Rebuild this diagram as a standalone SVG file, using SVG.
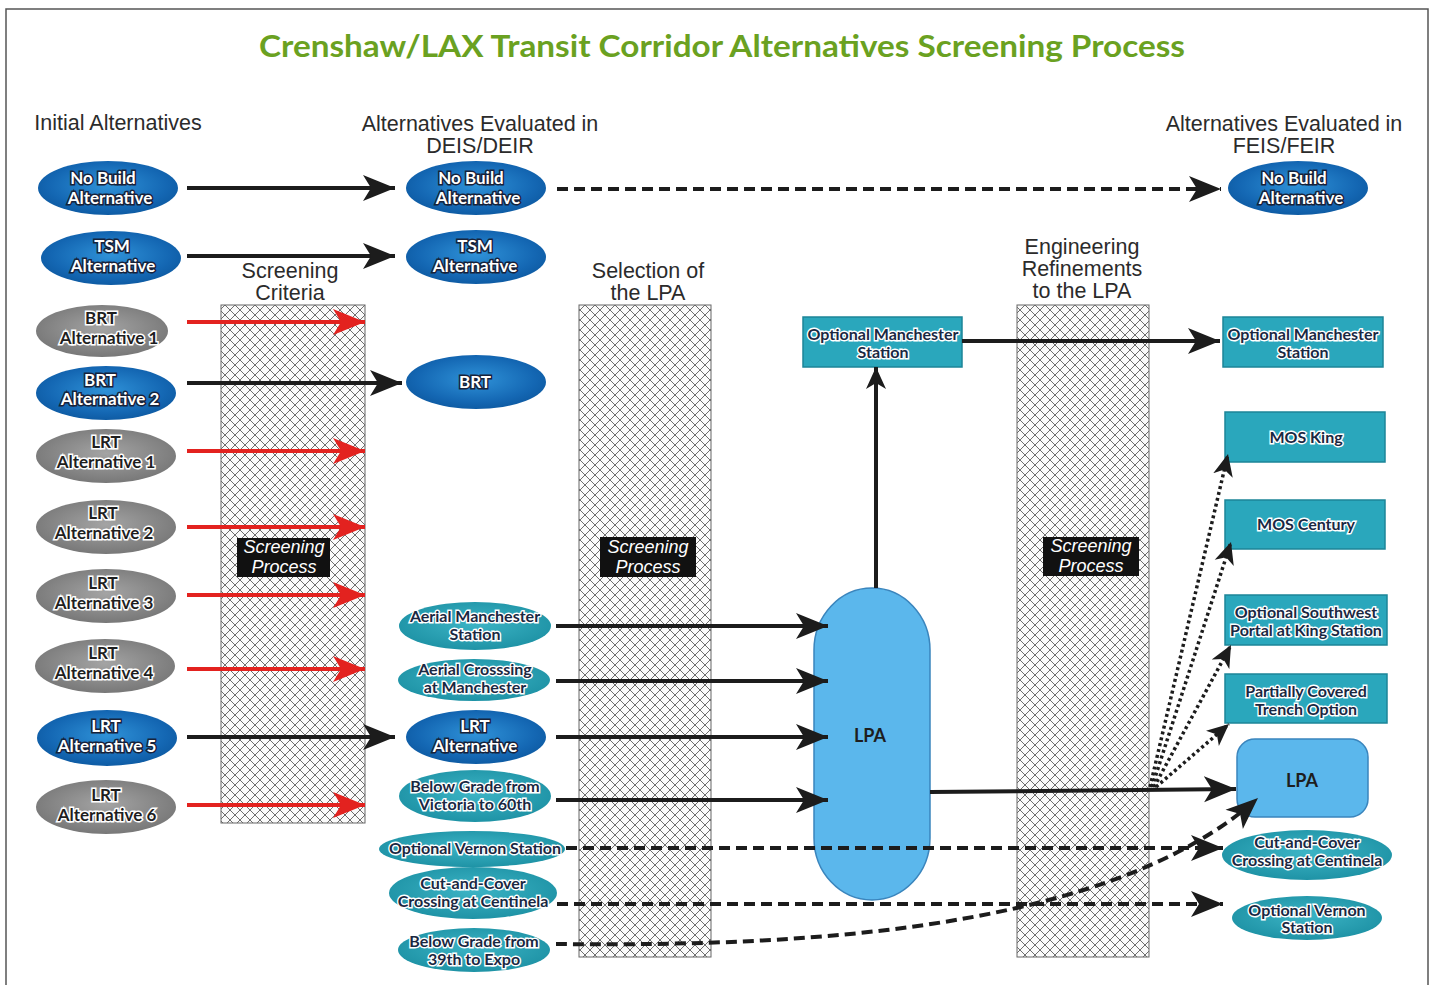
<svg xmlns="http://www.w3.org/2000/svg" width="1433" height="985" viewBox="0 0 1433 985">
<style>
.hdr{font-family:"Liberation Sans",Arial,sans-serif;font-size:21.5px;fill:#2b2b2b;text-anchor:middle}
.lw{font-family:Lato,"Open Sans",sans-serif;font-weight:700;font-size:17px;fill:#ffffff;stroke:#17223a;stroke-width:3px;paint-order:stroke;text-anchor:middle}
.ld{font-family:Lato,"Open Sans",sans-serif;font-weight:700;font-size:17px;fill:#1e1e1e;stroke:#ffffff;stroke-width:3px;paint-order:stroke;text-anchor:middle}
.lt{font-family:Lato,"Open Sans",sans-serif;font-weight:700;font-size:16px;fill:#1a2842;stroke:#ffffff;stroke-width:2.8px;paint-order:stroke;text-anchor:middle}
.lp{font-family:Lato,"Open Sans",sans-serif;font-weight:700;font-size:18px;fill:#1e1e1e;text-anchor:middle}
.sp{font-family:"Liberation Sans",Arial,sans-serif;font-style:italic;font-size:18px;fill:#ffffff;text-anchor:middle}
.blue{fill:url(#gBlue)}
.gray{fill:url(#gGray)}
.teal{fill:url(#gTeal)}
.box{fill:#2aa7bc;stroke:#1d8598;stroke-width:1.5}
.col{fill:url(#hatch);stroke:#666;stroke-width:1}
.spbox{fill:#111}
.solid{fill:none;stroke:#1c1c1c;stroke-width:4}
.red{fill:none;stroke:#e3221f;stroke-width:4}
.dash{fill:none;stroke:#1c1c1c;stroke-width:4;stroke-dasharray:11 6}
.dot{fill:none;stroke:#1c1c1c;stroke-width:3.5;stroke-dasharray:3 3}
</style>
<defs>
<radialGradient id="gBlue" cx="50%" cy="45%" r="60%"><stop offset="0" stop-color="#2f92d8"/><stop offset="0.7" stop-color="#1467b3"/><stop offset="1" stop-color="#0c579e"/></radialGradient>
<radialGradient id="gGray" cx="50%" cy="45%" r="60%"><stop offset="0" stop-color="#a4a4a4"/><stop offset="1" stop-color="#747474"/></radialGradient>
<radialGradient id="gTeal" cx="50%" cy="45%" r="60%"><stop offset="0" stop-color="#3cb4c5"/><stop offset="1" stop-color="#1c90a3"/></radialGradient>
<pattern id="hatch" patternUnits="userSpaceOnUse" width="10" height="10"><rect width="10" height="10" fill="#fafafa"/><path d="M0,0 L10,10 M10,0 L0,10" stroke="#4a4a4a" stroke-width="0.8"/></pattern>
<marker id="ah" markerUnits="userSpaceOnUse" markerWidth="34" markerHeight="28" refX="32" refY="14" orient="auto"><path d="M0,1 L32,14 L0,27 L8,14 z" fill="#1c1c1c"/></marker>
<marker id="ahr" markerUnits="userSpaceOnUse" markerWidth="34" markerHeight="28" refX="32" refY="14" orient="auto"><path d="M0,1 L32,14 L0,27 L8,14 z" fill="#e3221f"/></marker>
<marker id="ahs" markerUnits="userSpaceOnUse" markerWidth="24" markerHeight="22" refX="22" refY="11" orient="auto"><path d="M0,1 L22,11 L0,21 L6,11 z" fill="#1c1c1c"/></marker>
</defs>
<rect width="1433" height="985" fill="#ffffff"/>
<path d="M6,990 L6,9 L1428,9 L1428,990" fill="none" stroke="#555" stroke-width="1.5"/>
<text x="722" y="57" font-family="Lato,'Open Sans',sans-serif" font-weight="700" font-size="30" fill="#6aa121" text-anchor="middle" textLength="926" lengthAdjust="spacingAndGlyphs">Crenshaw/LAX Transit Corridor Alternatives Screening Process</text>

<g id="headers">
<text class="hdr" x="118" y="130">Initial Alternatives</text>
<text class="hdr" x="480" y="131">Alternatives Evaluated in<tspan x="480" dy="22">DEIS/DEIR</tspan></text>
<text class="hdr" x="1284" y="131">Alternatives Evaluated in<tspan x="1284" dy="22">FEIS/FEIR</tspan></text>
<text class="hdr" x="290" y="278">Screening<tspan x="290" dy="22">Criteria</tspan></text>
<text class="hdr" x="648" y="278">Selection of<tspan x="648" dy="22">the LPA</tspan></text>
<text class="hdr" x="1082" y="254">Engineering<tspan x="1082" dy="22">Refinements</tspan><tspan x="1082" dy="22">to the LPA</tspan></text>
</g>

<g id="screening-criteria"><rect class="col" x="221" y="305" width="144" height="518"/><rect class="spbox" x="237" y="538" width="93" height="39"/><text class="sp" x="284" y="553">Screening<tspan x="284" dy="20">Process</tspan></text></g>
<g id="selection-lpa"><rect class="col" x="579" y="305" width="132" height="652"/><rect class="spbox" x="600" y="537" width="96" height="40"/><text class="sp" x="648" y="553">Screening<tspan x="648" dy="20">Process</tspan></text></g>
<g id="engineering-refinements"><rect class="col" x="1017" y="305" width="132" height="652"/><rect class="spbox" x="1043" y="537" width="96" height="39"/><text class="sp" x="1091" y="552">Screening<tspan x="1091" dy="20">Process</tspan></text></g>

<g id="init-nobuild"><ellipse class="blue" cx="108" cy="188" rx="70" ry="27"/><text class="lw" x="103" y="184">No Build</text><text class="lw" x="110" y="204">Alternative</text></g>
<g id="init-tsm"><ellipse class="blue" cx="111" cy="258" rx="70" ry="27"/><text class="lw" x="112" y="252">TSM</text><text class="lw" x="113" y="272">Alternative</text></g>
<g id="init-brt1"><ellipse class="gray" cx="102" cy="331" rx="66" ry="26"/><text class="ld" x="101" y="324">BRT</text><text class="ld" x="109" y="344">Alternative 1</text></g>
<g id="init-brt2"><ellipse class="blue" cx="106" cy="393" rx="70" ry="27"/><text class="lw" x="100" y="386">BRT</text><text class="lw" x="110" y="405">Alternative 2</text></g>
<g id="init-lrt1"><ellipse class="gray" cx="106" cy="456" rx="70" ry="27"/><text class="ld" x="106" y="448">LRT</text><text class="ld" x="106" y="468">Alternative 1</text></g>
<g id="init-lrt2"><ellipse class="gray" cx="106" cy="527" rx="70" ry="27"/><text class="ld" x="103" y="519">LRT</text><text class="ld" x="104" y="539">Alternative 2</text></g>
<g id="init-lrt3"><ellipse class="gray" cx="106" cy="596" rx="70" ry="27"/><text class="ld" x="103" y="589">LRT</text><text class="ld" x="104" y="609">Alternative 3</text></g>
<g id="init-lrt4"><ellipse class="gray" cx="105" cy="666" rx="70" ry="27"/><text class="ld" x="103" y="659">LRT</text><text class="ld" x="104" y="679">Alternative 4</text></g>
<g id="init-lrt5"><ellipse class="blue" cx="107" cy="738" rx="70" ry="28"/><text class="lw" x="106" y="732">LRT</text><text class="lw" x="107" y="752">Alternative 5</text></g>
<g id="init-lrt6"><ellipse class="gray" cx="106" cy="807" rx="70" ry="27"/><text class="ld" x="106" y="801">LRT</text><text class="ld" x="107" y="821">Alternative 6</text></g>

<g id="deis-nobuild"><ellipse class="blue" cx="476" cy="188" rx="70" ry="27"/><text class="lw" x="471" y="184">No Build</text><text class="lw" x="478" y="204">Alternative</text></g>
<g id="deis-tsm"><ellipse class="blue" cx="476" cy="257" rx="70" ry="27"/><text class="lw" x="475" y="252">TSM</text><text class="lw" x="475" y="272">Alternative</text></g>
<g id="deis-brt"><ellipse class="blue" cx="476" cy="382" rx="70" ry="27"/><text class="lw" x="475" y="388">BRT</text></g>
<g id="deis-aerial-manchester"><ellipse class="teal" cx="475" cy="626" rx="76" ry="24"/><text class="lt" x="475" y="622">Aerial Manchester</text><text class="lt" x="475" y="640">Station</text></g>
<g id="deis-aerial-crossing"><ellipse class="teal" cx="474" cy="680" rx="76" ry="21"/><text class="lt" x="475" y="675">Aerial Crosssing</text><text class="lt" x="475" y="693">at Manchester</text></g>
<g id="deis-lrt"><ellipse class="blue" cx="476" cy="737" rx="70" ry="27"/><text class="lw" x="475" y="732">LRT</text><text class="lw" x="475" y="752">Alternative</text></g>
<g id="deis-below-victoria"><ellipse class="teal" cx="475" cy="796" rx="76" ry="26"/><text class="lt" x="475" y="792">Below Grade from</text><text class="lt" x="475" y="810">Victoria to 60th</text></g>
<g id="deis-vernon"><ellipse class="teal" cx="472" cy="849" rx="93" ry="18"/><text class="lt" x="475" y="854">Optional Vernon Station</text></g>
<g id="deis-cutcover"><ellipse class="teal" cx="473" cy="893" rx="84" ry="26"/><text class="lt" x="473" y="889">Cut-and-Cover</text><text class="lt" x="473" y="907">Crossing at Centinela</text></g>
<g id="deis-below-39th"><ellipse class="teal" cx="474" cy="950" rx="76" ry="22"/><text class="lt" x="474" y="947">Below Grade from</text><text class="lt" x="474" y="965">39th to Expo</text></g>

<g id="lpa-main"><rect x="814" y="588" width="116" height="312" rx="58" ry="62" fill="#5bb7ec" stroke="#3a85bd" stroke-width="1.5"/><text class="lp" x="870" y="742">LPA</text></g>
<g id="mid-opt-manchester"><rect class="box" x="803" y="317" width="159" height="50"/><text class="lt" x="883" y="340">Optional Manchester</text><text class="lt" x="883" y="358">Station</text></g>

<g id="feis-nobuild"><ellipse class="blue" cx="1298" cy="188" rx="70" ry="27"/><text class="lw" x="1294" y="184">No Build</text><text class="lw" x="1301" y="204">Alternative</text></g>
<g id="feis-opt-manchester"><rect class="box" x="1223" y="317" width="160" height="50"/><text class="lt" x="1303" y="340">Optional Manchester</text><text class="lt" x="1303" y="358">Station</text></g>
<g id="feis-mos-king"><rect class="box" x="1225" y="412" width="160" height="50"/><text class="lt" x="1306" y="443">MOS King</text></g>
<g id="feis-mos-century"><rect class="box" x="1225" y="500" width="160" height="49"/><text class="lt" x="1306" y="530">MOS Century</text></g>
<g id="feis-sw-portal"><rect class="box" x="1225" y="595" width="162" height="50"/><text class="lt" x="1306" y="618">Optional Southwest</text><text class="lt" x="1306" y="636">Portal at King Station</text></g>
<g id="feis-trench"><rect class="box" x="1225" y="674" width="162" height="49"/><text class="lt" x="1306" y="697">Partially Covered</text><text class="lt" x="1306" y="715">Trench Option</text></g>
<g id="feis-lpa"><rect x="1237" y="739" width="131" height="78" rx="18" fill="#5bb7ec" stroke="#3a85bd" stroke-width="1.5"/><text class="lp" x="1302" y="787">LPA</text></g>
<g id="feis-cutcover"><ellipse class="teal" cx="1307" cy="855" rx="85" ry="25"/><text class="lt" x="1307" y="848">Cut-and-Cover</text><text class="lt" x="1307" y="866">Crossing at Centinela</text></g>
<g id="feis-vernon"><ellipse class="teal" cx="1307" cy="918" rx="75" ry="22"/><text class="lt" x="1307" y="916">Optional Vernon</text><text class="lt" x="1307" y="933">Station</text></g>

<g id="connectors">
<path class="solid" d="M187,188 H395" marker-end="url(#ah)"/>
<path class="solid" d="M187,256 H395" marker-end="url(#ah)"/>
<path class="red" d="M187,322 H365" marker-end="url(#ahr)"/>
<path class="solid" d="M187,383 H402" marker-end="url(#ah)"/>
<path class="red" d="M187,451 H365" marker-end="url(#ahr)"/>
<path class="red" d="M187,527 H365" marker-end="url(#ahr)"/>
<path class="red" d="M187,595 H365" marker-end="url(#ahr)"/>
<path class="red" d="M187,669 H365" marker-end="url(#ahr)"/>
<path class="solid" d="M187,737 H395" marker-end="url(#ah)"/>
<path class="red" d="M187,805 H365" marker-end="url(#ahr)"/>
<path class="dash" d="M557,189 H1221" marker-end="url(#ah)"/>
<path class="solid" d="M556,626 H828" marker-end="url(#ah)"/>
<path class="solid" d="M556,681 H828" marker-end="url(#ah)"/>
<path class="solid" d="M556,737 H828" marker-end="url(#ah)"/>
<path class="solid" d="M556,800 H828" marker-end="url(#ah)"/>
<path class="dash" d="M566,848 H1223" marker-end="url(#ah)"/>
<path class="dash" d="M557,904 H1223" marker-end="url(#ah)"/>
<path class="dash" d="M556,944 C760,946 1100,940 1258,798" marker-end="url(#ah)"/>
<path class="solid" d="M876,588 V367" stroke-width="3" marker-end="url(#ahs)"/>
<path class="solid" d="M962,341 H1220" marker-end="url(#ah)"/>
<path class="solid" d="M930,792 L1236,789" stroke-width="3" marker-end="url(#ah)"/>
<path class="dot" d="M1150,787 L1228,454" marker-end="url(#ahs)"/>
<path class="dot" d="M1152,787 L1231,542" marker-end="url(#ahs)"/>
<path class="dot" d="M1154,787 L1231,645" marker-end="url(#ahs)"/>
<path class="dot" d="M1156,787 L1229,724" marker-end="url(#ahs)"/>
</g>
</svg>
